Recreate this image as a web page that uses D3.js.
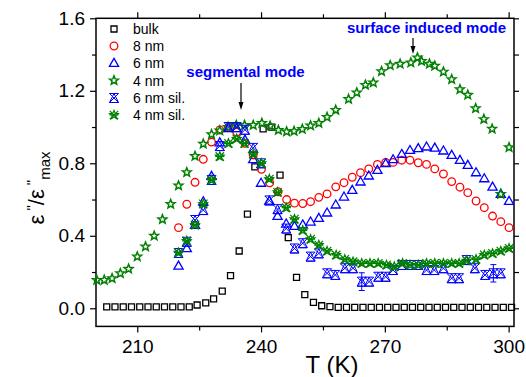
<!DOCTYPE html>
<html><head><meta charset="utf-8">
<script src="https://cdn.jsdelivr.net/npm/d3@7"></script>
<style>body{margin:0;background:#fff} svg{display:block}</style>
</head><body>
<svg id="c" width="526" height="377"></svg>
<script>
// ---------- data ----------
const xTicks = [210, 240, 270, 300];
const xMinor = [225, 255, 285];
const yTicks = [0.0, 0.4, 0.8, 1.2, 1.6];
const yMinor = [0.2, 0.6, 1.0, 1.4];
const yRightTicks = [0.0, 0.2, 0.4, 0.6, 0.8, 1.0, 1.2, 1.4, 1.6];
const seriesNames = ["bulk", "8 nm", "6 nm", "4 nm", "6 nm sil.", "4 nm sil."];

const bulkT = [202.6,204.6,206.6,208.6,210.6,212.6,214.6,216.6,218.6,220.6,222.6,
  224.5,226.6,228.5,230.6,232.6,234.7,236.7,238.5,240.5,242.6,244.6,246.6,248.6,250.6,252.7,254.7,256.7,
  258.7,260.7,262.7,264.7,266.7,268.7,270.7,272.7,274.7,276.7,278.7,280.7,282.7,284.7,286.7,288.7,290.7,292.7,294.7,296.7,298.7,300.7];
const bulkV = [0.008,0.008,0.008,0.008,0.008,0.008,0.008,0.008,0.008,0.008,0.008,
  0.018,0.03,0.052,0.095,0.18,0.316,0.52,0.78,0.99,1.0,0.735,0.39,0.17,0.075,0.033,0.014,0.009,
  0.005,0.005,0.005,0.005,0.005,0.005,0.005,0.005,0.005,0.005,0.005,0.005,0.005,0.005,0.005,0.005,0.005,0.005,0.005,0.005,0.005,0.005];

const nm8T = [220.0,222.0,224.0,226.0,228.0,230.0,232.1,234.1,236.1,238.1,240.1,242.1,244.1,246.2,248.1,250.1,252.0,254.0,256.0,258.1,
  260.1,262.1,264.1,266.1,268.2,270.2,272.0,274.1,276.1,278.1,280.1,282.1,284.2,286.2,288.2,290.1,292.1,294.1,296.1,298.1,300.1];
const nm8V = [0.445,0.574,0.695,0.822,0.917,0.984,1.0,0.972,0.91,0.846,0.767,0.692,0.643,0.60,0.58,0.578,0.588,0.612,0.631,0.67,
  0.693,0.723,0.748,0.769,0.794,0.805,0.805,0.817,0.817,0.803,0.794,0.769,0.741,0.699,0.668,0.638,0.592,0.555,0.509,0.478,0.445];

const nm6T = [220,222,224,226,228,230,232.1,234.1,236.1,238.1,240.0,242.0,244.0,246.1,248.1,250.1,252.0,254.0,256.0,258.1,
  260.1,262.1,264.1,266.1,268.2,270.2,272.0,274.1,276.1,278.1,280.1,282.1,284.2,286.2,288.2,290.1,292.1,294.1,296.1,298.1,300.1];
const nm6V = [0.235,0.331,0.46,0.59,0.73,0.915,0.993,0.993,0.93,0.822,0.692,0.593,0.509,0.467,0.454,0.462,0.478,0.498,0.528,0.572,
  0.616,0.653,0.699,0.732,0.763,0.80,0.822,0.851,0.873,0.883,0.892,0.886,0.87,0.846,0.818,0.791,0.75,0.717,0.671,0.631,0.592];

const nm4T = [200.2,202.0,203.9,205.9,207.9,210.0,212.0,214.1,216.1,218.1,220.0,222.0,224.0,226.0,228.0,230.0,232.0,234.0,236.0,238.1,
  240.2,242.2,244.2,246.2,248.0,250.0,252.0,254.0,256.0,258.1,261.2,263.2,265.3,267.2,269.2,271.3,273.7,276.3,277.9,278.9,
  280.8,282.1,284.2,286.2,288.2,290.1,292.0,294.0,296.0,298.1,300.1];
const nm4V = [0.156,0.156,0.165,0.193,0.217,0.285,0.34,0.40,0.49,0.575,0.677,0.75,0.84,0.907,0.96,0.98,1.0,1.01,1.01,1.01,
  1.022,1.006,0.983,0.975,0.977,0.988,1.008,1.022,1.055,1.094,1.154,1.19,1.232,1.245,1.307,1.34,1.348,1.355,1.383,1.364,
  1.348,1.338,1.305,1.263,1.208,1.177,1.103,1.043,0.99,0.63,0.888];

const sil6T = [220,222,224,226,228,230,232.1,234.1,236.1,238.1,240.0,242.0,244.0,246.1,248.1,250.1,252.0,254.0,256.0,258.0,
  260.3,262.3,264.4,266.2,268.4,270.2,272.0,274.1,276.1,278.1,280.1,282.0,284.2,286.2,288.0,289.8,291.8,294.3,296.3,298.1];
const sil6V = [0.305,0.367,0.487,0.542,0.708,0.895,1.0,1.0,0.985,0.885,0.80,0.595,0.547,0.44,0.33,0.359,0.285,0.303,0.193,0.184,
  0.221,0.221,0.147,0.147,0.174,0.174,0.211,0.239,0.239,0.239,0.211,0.211,0.221,0.166,0.166,0.266,0.221,0.184,0.193,0.193];
const sil6ErrT = [264.4, 296.3];
const sil6ErrV = [0.147, 0.193];
const sil6Err  = [0.049, 0.048];

const sil4T = [220,222,224,226,228,230,232.1,234.1,236.0,238.1,240.1,242.0,244.0,246.1,248.1,250.1,252.0,254.0,256.0,258.2,
  260.3,262.3,264.4,266.4,268.4,270.4,272.3,274.3,276.1,278.1,280.1,282.1,284.2,286.2,288.0,289.8,292.1,294.1,296.1,298.1,300.1];
const sil4V = [0.307,0.372,0.46,0.576,0.708,0.838,0.91,0.935,0.91,0.85,0.8,0.713,0.64,0.555,0.492,0.43,0.381,0.349,0.316,0.294,
  0.27,0.257,0.248,0.248,0.248,0.239,0.23,0.248,0.239,0.239,0.248,0.248,0.248,0.248,0.248,0.263,0.27,0.294,0.303,0.316,0.331];

// ---------- layout ----------
const svg = d3.select("#c");
const FONT = "'Liberation Sans', Arial, sans-serif";
const m = {l: 96, r: 514, t: 18.3, b: 326.4};
const x = d3.scaleLinear().domain([200, 301.3]).range([m.l, m.r]);
const y = d3.scaleLinear().domain([-0.1, 1.6]).range([m.b, m.t]);

// marker shapes
function starPath(R, r) {
  let p = "";
  for (let i = 0; i < 10; i++) {
    const a = -Math.PI / 2 + i * Math.PI / 5;
    const rr = i % 2 ? r : R;
    p += (i ? "L" : "M") + (rr * Math.cos(a)).toFixed(2) + "," + (rr * Math.sin(a)).toFixed(2);
  }
  return p + "Z";
}
const shapes = {
  square: "M-3,-3H3V3H-3Z",
  circle: "M-3.8,0A3.8,3.8 0 1,0 3.8,0A3.8,3.8 0 1,0 -3.8,0Z",
  triangle: "M0,-4.6L4.6,3.4L-4.6,3.4Z",
  star: starPath(4.6, 2.0),
  hourglass: "M-4.5,-4.5L4.5,-4.5L-4.5,4.5L4.5,4.5Z M0,-4.5L4.5,4.5L-4.5,4.5Z",
  asterisk: starPath(4.6, 2.0) + " M-4.2,-4.2L4.2,4.2M4.2,-4.2L-4.2,4.2M-4.6,0L4.6,0"
};

const series = [
  {name: seriesNames[0], T: bulkT, V: bulkV, shape: "square", color: "#000000", sw: 1.3},
  {name: seriesNames[1], T: nm8T, V: nm8V, shape: "circle", color: "#ff0000", sw: 1.3},
  {name: seriesNames[2], T: nm6T, V: nm6V, shape: "triangle", color: "#0000ff", sw: 1.3},
  {name: seriesNames[3], T: nm4T, V: nm4V, shape: "star", color: "#008000", sw: 1.5},
  {name: seriesNames[4], T: sil6T, V: sil6V, shape: "hourglass", color: "#0000ff", sw: 1.0},
  {name: seriesNames[5], T: sil4T, V: sil4V, shape: "asterisk", color: "#008000", sw: 1.2}
];

// ---------- axes ----------
function styleAxis(g, labels) {
  g.select(".domain").remove();
  g.selectAll(".tick line").attr("stroke", "#000").attr("stroke-width", 1.2);
  g.selectAll(".tick text").attr("fill", "#000").style("font-family", FONT).style("font-size", "19px");
  if (!labels) g.selectAll(".tick text").remove();
}
const gx = svg.append("g").attr("transform", `translate(0,${m.b})`)
  .call(d3.axisBottom(x).tickValues(xTicks).tickSize(6).tickPadding(7).tickFormat(d3.format("d")));
styleAxis(gx, true);
svg.append("g").attr("transform", `translate(0,${m.b})`)
  .call(d3.axisBottom(x).tickValues(xMinor).tickSize(4).tickFormat("")).call(g => styleAxis(g, false));
svg.append("g").attr("transform", `translate(0,${m.t})`)
  .call(d3.axisTop(x).tickValues(xTicks).tickSize(6).tickFormat("")).call(g => styleAxis(g, false));
svg.append("g").attr("transform", `translate(0,${m.t})`)
  .call(d3.axisTop(x).tickValues(xMinor).tickSize(4).tickFormat("")).call(g => styleAxis(g, false));

const gy = svg.append("g").attr("transform", `translate(${m.l},0)`)
  .call(d3.axisLeft(y).tickValues(yTicks).tickSize(6).tickPadding(5).tickFormat(d3.format(".1f")));
styleAxis(gy, true);
svg.append("g").attr("transform", `translate(${m.l},0)`)
  .call(d3.axisLeft(y).tickValues(yMinor).tickSize(4).tickFormat("")).call(g => styleAxis(g, false));
svg.append("g").attr("transform", `translate(${m.r},0)`)
  .call(d3.axisRight(y).tickValues(yRightTicks).tickSize(5).tickFormat("")).call(g => styleAxis(g, false));

// frame
svg.append("rect").attr("x", m.l).attr("y", m.t).attr("width", m.r - m.l).attr("height", m.b - m.t)
  .attr("fill", "none").attr("stroke", "#000").attr("stroke-width", 1.5);

// ---------- error bars ----------
const eb = svg.append("g").attr("stroke", "#0000ff").attr("stroke-width", 1);
sil6ErrT.forEach((t, i) => {
  const cx = x(t), y0 = y(sil6ErrV[i] - sil6Err[i]), y1 = y(sil6ErrV[i] + sil6Err[i]);
  eb.append("line").attr("x1", cx).attr("x2", cx).attr("y1", y0).attr("y2", y1);
  eb.append("line").attr("x1", cx - 3).attr("x2", cx + 3).attr("y1", y0).attr("y2", y0);
  eb.append("line").attr("x1", cx - 3).attr("x2", cx + 3).attr("y1", y1).attr("y2", y1);
});

// ---------- markers ----------
series.forEach(s => {
  const pts = s.T.map((t, i) => ({t, v: s.V[i]}));
  svg.append("g").selectAll("path").data(pts).join("path")
    .attr("d", shapes[s.shape])
    .attr("transform", d => `translate(${x(d.t)},${y(d.v)})`)
    .attr("fill", "none").attr("stroke", s.color).attr("stroke-width", s.sw)
    .attr("stroke-linejoin", "miter");
});

// ---------- legend ----------
const lg = svg.append("g");
const legY = [29, 46, 63, 80.5, 98, 115];
series.forEach((s, i) => {
  lg.append("path").attr("d", shapes[s.shape]).attr("transform", `translate(114,${legY[i]})`)
    .attr("fill", "none").attr("stroke", s.color).attr("stroke-width", s.sw);
  lg.append("text").attr("x", 133).attr("y", legY[i]).attr("dy", "0.36em")
    .style("font-family", FONT).style("font-size", "14px").attr("fill", "#000").text(s.name);
});

// ---------- annotations ----------
function arrow(xp, y0, y1) {
  svg.append("line").attr("x1", xp).attr("x2", xp).attr("y1", y0).attr("y2", y1 - 6)
    .attr("stroke", "#000").attr("stroke-width", 1.2);
  svg.append("path").attr("d", `M${xp - 2.5},${y1 - 8}L${xp + 2.5},${y1 - 8}L${xp},${y1}Z`).attr("fill", "#000");
}
svg.append("text").attr("x", 245.5).attr("y", 77).attr("text-anchor", "middle")
  .style("font-family", FONT).style("font-size", "15px").style("font-weight", "bold").attr("fill", "#0000ff")
  .text("segmental mode");
arrow(241, 83, 110);
svg.append("text").attr("x", 426.5).attr("y", 33).attr("text-anchor", "middle")
  .style("font-family", FONT).style("font-size", "15px").style("font-weight", "bold").attr("fill", "#0000ff")
  .text("surface induced mode");
arrow(413, 38, 54);

// ---------- axis titles ----------
svg.append("text").attr("x", 332).attr("y", 373).attr("text-anchor", "middle")
  .style("font-family", FONT).style("font-size", "24px").attr("fill", "#000").text("T (K)");

const yl = svg.append("text").attr("transform", "translate(44,188) rotate(-90)").attr("text-anchor", "middle")
  .style("font-family", FONT).style("font-size", "22px").attr("fill", "#000");
yl.append("tspan").text("ε");
yl.append("tspan").attr("dy", -7).style("font-size", "15px").text(" \"");
yl.append("tspan").attr("dy", 7).text("/ε");
yl.append("tspan").attr("dy", -7).style("font-size", "15px").text(" \"");
yl.append("tspan").attr("dy", 13).style("font-size", "15px").text("max");
</script>
</body></html>
